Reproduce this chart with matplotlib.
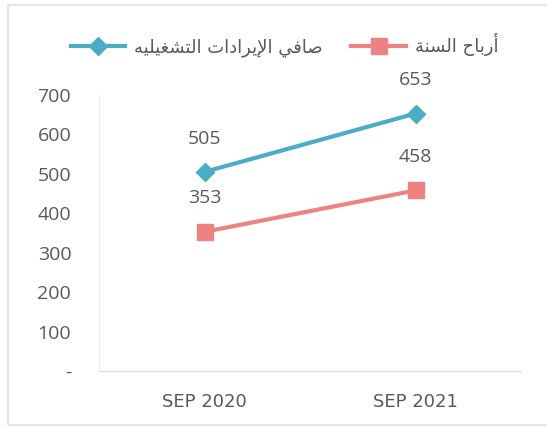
import matplotlib.pyplot as plt
from matplotlib.patches import Rectangle

# data
periods = ['SEP 2020', 'SEP 2021']
net_operating_revenue = [505, 653]
year_profit = [353, 458]
series_names = ['صافي الإيرادات التشغيليه', 'أرباح السنة']
y_ticks = [0, 100, 200, 300, 400, 500, 600, 700]
y_tick_labels = ['-', '100', '200', '300', '400', '500', '600', '700']

# matplotlib has no arabic shaping, so pick presentation forms by hand
FORMS = {
    'ا': ('\uFE8D', '\uFE8E'), 'أ': ('\uFE83', '\uFE84'), 'إ': ('\uFE87', '\uFE88'),
    'ة': ('\uFE93', '\uFE94'), 'د': ('\uFEA9', '\uFEAA'), 'ر': ('\uFEAD', '\uFEAE'),
    'ب': ('\uFE8F', '\uFE90', '\uFE91', '\uFE92'), 'ت': ('\uFE95', '\uFE96', '\uFE97', '\uFE98'),
    'ح': ('\uFEA1', '\uFEA2', '\uFEA3', '\uFEA4'), 'س': ('\uFEB1', '\uFEB2', '\uFEB3', '\uFEB4'),
    'ش': ('\uFEB5', '\uFEB6', '\uFEB7', '\uFEB8'), 'ص': ('\uFEB9', '\uFEBA', '\uFEBB', '\uFEBC'),
    'غ': ('\uFECD', '\uFECE', '\uFECF', '\uFED0'), 'ف': ('\uFED1', '\uFED2', '\uFED3', '\uFED4'),
    'ل': ('\uFEDD', '\uFEDE', '\uFEDF', '\uFEE0'), 'ن': ('\uFEE5', '\uFEE6', '\uFEE7', '\uFEE8'),
    'ه': ('\uFEE9', '\uFEEA', '\uFEEB', '\uFEEC'), 'ي': ('\uFEF1', '\uFEF2', '\uFEF3', '\uFEF4'),
}
LAM_ALEF = {'ا': ('\uFEFB', '\uFEFC'), 'أ': ('\uFEF7', '\uFEF8'), 'إ': ('\uFEF9', '\uFEFA')}


def shape_arabic(text):
    chars = list(text)
    out = []
    i = 0
    while i < len(chars):
        c = chars[i]
        if c not in FORMS:
            out.append(c)
            i += 1
            continue
        prev = chars[i - 1] if i > 0 else ''
        joins_prev = prev in FORMS and len(FORMS[prev]) == 4
        if c == 'ل' and i + 1 < len(chars) and chars[i + 1] in LAM_ALEF:
            out.append(LAM_ALEF[chars[i + 1]][1 if joins_prev else 0])
            i += 2
            continue
        nxt = chars[i + 1] if i + 1 < len(chars) else ''
        joins_next = len(FORMS[c]) == 4 and nxt in FORMS
        f = FORMS[c]
        if joins_prev and joins_next:
            out.append(f[3])
        elif joins_next:
            out.append(f[2])
        elif joins_prev:
            out.append(f[1])
        else:
            out.append(f[0])
        i += 1
    return ''.join(reversed(out))


text_grey = '#595959'
blue = '#4BACC6'
pink = '#EE8282'

plt.rcParams['font.family'] = ['Open Sans', 'DejaVu Sans']

fig = plt.figure(figsize=(5.47, 4.28), dpi=100)
fig.patches.append(Rectangle((8 / 547, 3 / 428), 1.0, 420 / 428, transform=fig.transFigure,
                             fill=False, edgecolor='#E0E0E0', linewidth=1.2))
ax = fig.add_axes([99 / 547, 57 / 428, 422 / 547, 276 / 428])

x = list(range(len(periods)))
ax.plot(x, net_operating_revenue, color=blue, linewidth=3, marker='D', markersize=9,
        label=shape_arabic(series_names[0]))
ax.plot(x, year_profit, color=pink, linewidth=3, marker='s', markersize=11,
        label=shape_arabic(series_names[1]))

for xi, v in zip(x, net_operating_revenue):
    ax.annotate(str(v), (xi, v), xytext=(0, 24), textcoords='offset points',
                ha='center', va='center', fontsize=14, color=text_grey)
for xi, v in zip(x, year_profit):
    ax.annotate(str(v), (xi, v), xytext=(0, 24), textcoords='offset points',
                ha='center', va='center', fontsize=14, color=text_grey)

ax.set_xlim(-0.5, 1.5)
ax.set_ylim(0, 700)
ax.set_yticks(y_ticks)
ax.set_yticklabels(y_tick_labels, fontsize=14, color=text_grey)
ax.set_xticks(x)
ax.set_xticklabels(periods, fontsize=13, color=text_grey, family='DejaVu Sans')
ax.tick_params(length=0)
ax.tick_params(axis='y', pad=20)
ax.tick_params(axis='x', pad=16)

for side in ['top', 'right']:
    ax.spines[side].set_visible(False)
ax.spines['left'].set_color('#EDEDED')
ax.spines['bottom'].set_color('#D9D9D9')

fig.legend(loc='center', bbox_to_anchor=(0.52, 0.895), ncol=2, frameon=False,
           prop={'family': 'DejaVu Sans', 'size': 13}, labelcolor=text_grey,
           handlelength=3.0, columnspacing=1.6, handletextpad=0.5)

fig.savefig('out.png', dpi=100)
